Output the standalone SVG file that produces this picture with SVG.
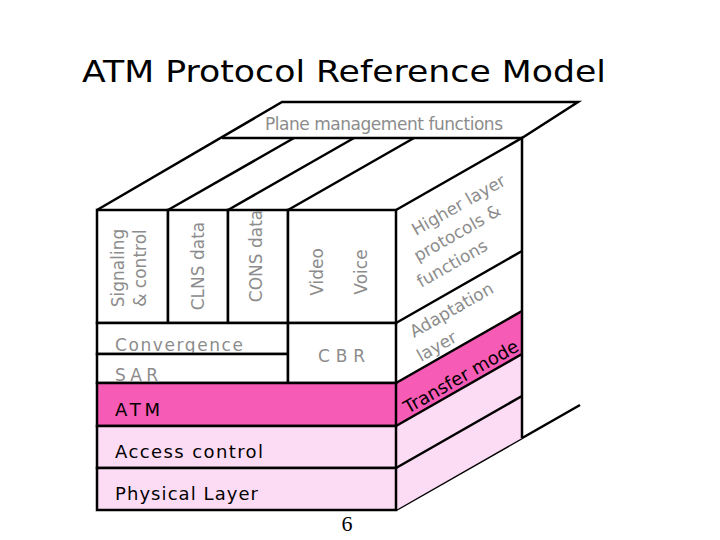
<svg xmlns="http://www.w3.org/2000/svg" width="720" height="540" viewBox="0 0 720 540">
<style>
.l{fill:none;stroke:#000;stroke-width:2.5;stroke-linejoin:miter}
.w{fill:#fff;stroke:#000;stroke-width:2.5}
.g{font-family:"DejaVu Sans","Liberation Sans",sans-serif;fill:#8c8c8c;font-size:17px}
.b{font-family:"DejaVu Sans","Liberation Sans",sans-serif;fill:#000;font-size:18px}
</style>
<rect width="720" height="540" fill="#fff"/>
<text x="82" y="82" font-family="DejaVu Sans, Liberation Sans, sans-serif" font-size="30" textLength="524" lengthAdjust="spacingAndGlyphs">ATM Protocol Reference Model</text>
<g id="connectors">
<polyline class="l" points="97,210 282,102 578,102 522,138"/>
<line class="l" x1="222" y1="138" x2="522" y2="138"/>
<line class="l" x1="168" y1="210" x2="294" y2="138"/>
<line class="l" x1="228" y1="210" x2="354" y2="138"/>
<line class="l" x1="288" y1="210" x2="414" y2="138"/>
<line class="l" x1="396" y1="510" x2="580" y2="405"/>
</g>
<g id="plane-mgmt"><text class="g" font-size="16" x="265" y="130" textLength="238">Plane management functions</text></g>
<g id="right-face">
<polygon points="396,210 522,138 522,311 396,383" fill="#fff"/>
<polygon points="396,383 522,311 522,354 396,426" fill="#f65bb5"/>
<polygon points="396,426 522,354 522,438 396,510" fill="#fcdcf4"/>
<polyline class="l" points="396,210 522,138 522,438"/>
<line class="l" x1="396" y1="323" x2="522" y2="251"/>
<line class="l" x1="396" y1="383" x2="522" y2="311"/>
<line class="l" x1="396" y1="426" x2="522" y2="354"/>
<line class="l" x1="396" y1="468" x2="522" y2="396"/>
<g class="g" font-size="16">
<text transform="translate(416,236) rotate(-29.7)">Higher layer</text>
<text transform="translate(418,262) rotate(-29.7)">protocols &amp;</text>
<text transform="translate(421,288) rotate(-29.7)">functions</text>
<text transform="translate(414,338) rotate(-29.7)">Adaptation</text>
<text transform="translate(421,362) rotate(-29.7)">layer</text>
</g>
<text class="b" font-size="16" transform="translate(408,414) rotate(-29.7)">Transfer mode</text>
</g>
<g id="col-signaling"><rect class="w" x="97" y="210" width="71" height="113"/>
<text class="g" font-size="15" transform="translate(124,268) rotate(-90)" text-anchor="middle">Signaling</text>
<text class="g" font-size="15" transform="translate(146,268) rotate(-90)" text-anchor="middle">&amp; control</text></g>
<g id="col-clns"><rect class="w" x="168" y="210" width="60" height="113"/>
<text class="g" font-size="16" transform="translate(204,266) rotate(-90)" text-anchor="middle">CLNS data</text></g>
<g id="col-cons"><rect class="w" x="228" y="210" width="60" height="113"/>
<text class="g" font-size="16" transform="translate(262,256) rotate(-90)" text-anchor="middle">CONS data</text></g>
<g id="col-video-voice"><rect class="w" x="288" y="210" width="108" height="113"/>
<text class="g" font-size="19" transform="translate(323,272) rotate(-90)" text-anchor="middle">Video</text>
<text class="g" font-size="19" transform="translate(367,272) rotate(-90)" text-anchor="middle">Voice</text></g>
<g id="convergence"><rect class="w" x="97" y="323" width="191" height="31"/>
<text class="g" font-size="19" x="115" y="351" textLength="128">Convergence</text></g>
<g id="sar"><rect class="w" x="97" y="354" width="191" height="29"/>
<text class="g" font-size="19" x="115" y="381" textLength="43">SAR</text></g>
<g id="cbr"><rect class="w" x="288" y="323" width="108" height="60"/>
<text class="g" font-size="19" x="318" y="362" textLength="47">CBR</text></g>
<g id="atm"><rect x="97" y="383" width="299" height="43" fill="#f65bb5" stroke="#000" stroke-width="2.5"/>
<text class="b" font-size="19" x="115" y="416" textLength="45">ATM</text></g>
<g id="access"><rect x="97" y="426" width="299" height="42" fill="#fcdcf4" stroke="#000" stroke-width="2.5"/>
<text class="b" font-size="19" x="115" y="458" textLength="148">Access control</text></g>
<g id="physical"><rect x="97" y="468" width="299" height="42" fill="#fcdcf4" stroke="#000" stroke-width="2.5"/>
<text class="b" font-size="19" x="115" y="500" textLength="143">Physical Layer</text></g>
<text x="347" y="531" font-family="Liberation Serif, serif" font-size="22" text-anchor="middle">6</text>
</svg>
